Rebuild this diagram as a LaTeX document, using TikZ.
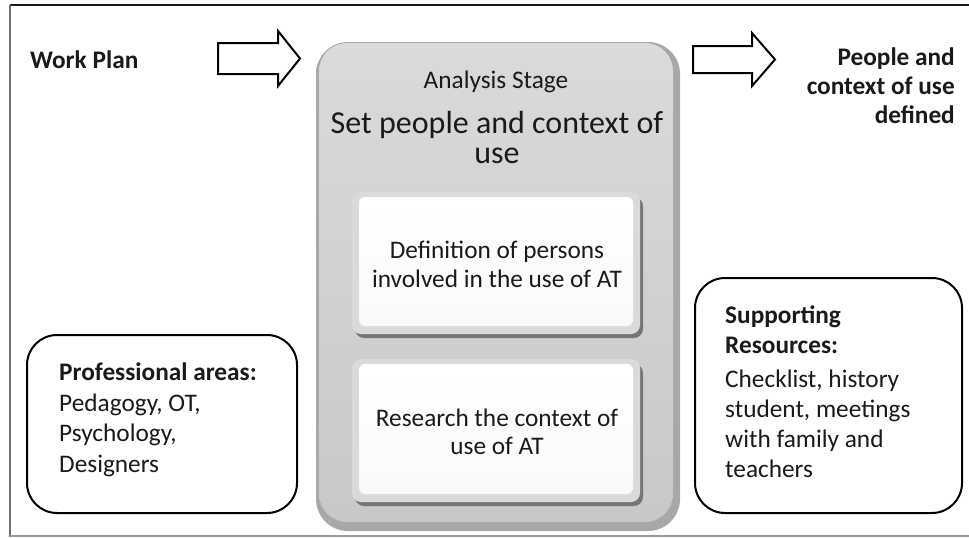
\documentclass[tikz,border=0pt]{standalone}
\usepackage{fontspec}
\setmainfont{Carlito}
\definecolor{boxedge}{HTML}{A8A8A8}
\definecolor{boxtop}{HTML}{DADADA}
\definecolor{boxbot}{HTML}{C8C8C8}
\definecolor{bevel}{HTML}{DADADA}
\definecolor{shadowc}{HTML}{767676}
\definecolor{txt}{HTML}{1A1A1A}
\tikzset{
  frameline/.style={line width=2pt},
  blockarrow/.style={draw=black, line width=2pt, fill=white, line join=miter},
  sidebox/.style={draw=black, line width=2pt, rounded corners=30pt},
  lbl/.style={inner sep=0pt, text=txt},
  btxt/.style={lbl, font=\fontsize{25.3}{29}\selectfont\bfseries},
  ntxt/.style={lbl, font=\fontsize{25.3}{30}\selectfont},
}
\begin{document}
\begin{tikzpicture}[x=1pt,y=-1pt]
\useasboundingbox (0,0) rectangle (969,538);
% frame
\coordinate (ftl) at (10,5);
\coordinate (ftr) at (969,5);
\coordinate (fbl) at (10,537);
\coordinate (fbr) at (969,536);
\draw[frameline, black!90] (ftl) -- (ftr);
\draw[frameline, black!55] (ftl) -- (fbl);
\draw[line width=1.5pt, black!40] (10,536) -- (fbr);

% block arrows
\draw[blockarrow] (218,43) -- (278,43) -- (278,31) -- (300,58.5) -- (278,86) -- (278,74) -- (218,74) -- cycle;
\draw[blockarrow] (693,46) -- (752,46) -- (752,33) -- (775,59.5) -- (752,86) -- (752,73) -- (693,73) -- cycle;

% central stage box
\fill[boxedge, rounded corners=32pt] (316,42) rectangle (680,531);
\shade[top color=boxtop, bottom color=boxbot, rounded corners=28pt] (319,43) rectangle (673,522);

% inner boxes
\fill[shadowc, rounded corners=9pt] (355,197) rectangle (643,338);
\fill[bevel, rounded corners=9pt] (352,192) rectangle (640,334);
\shade[top color=white, bottom color=black!2, rounded corners=6pt] (359,197) rectangle (633,326);
\fill[shadowc, rounded corners=9pt] (355,364) rectangle (643,506);
\fill[bevel, rounded corners=9pt] (352,359) rectangle (640,502);
\shade[top color=white, bottom color=black!2, rounded corners=6pt] (359,364) rectangle (633,494);

\node[ntxt, font=\fontsize{25.3}{29}\selectfont, align=center, anchor=base] (def) at (497,287) {Definition of persons\\involved in the use of AT};
\node[ntxt, font=\fontsize{25.3}{28}\selectfont, align=center, anchor=base] (res) at (497,454) {Research the context of\\use of AT};

% stage titles
\node[ntxt, anchor=base] (ana) at (496,88) {Analysis Stage};
\node[ntxt, font=\fontsize{32}{30}\selectfont, anchor=base, align=center] (set) at (497,163) {Set people and context of\\use};

% side texts
\node[btxt, anchor=base west] (wp) at (30,68) {Work Plan};
\node[btxt, anchor=base east, align=right] (out) at (955,123) {People and\\context of use\\defined};

% side boxes
\draw[sidebox] (27,335) rectangle (297,513);
\draw[sidebox] (695,278) rectangle (962,513);
\node[ntxt, font=\fontsize{25.3}{30.5}\selectfont, anchor=base west, align=left] (prof) at (59,472) {\textbf{Professional areas:}\\Pedagogy, OT,\\Psychology,\\Designers};
\node[ntxt, anchor=base west, align=left] (sup) at (725,477) {\textbf{Supporting}\\\textbf{Resources:}\\[4pt]Checklist, history\\student, meetings\\with family and\\teachers};
\end{tikzpicture}
\end{document}
